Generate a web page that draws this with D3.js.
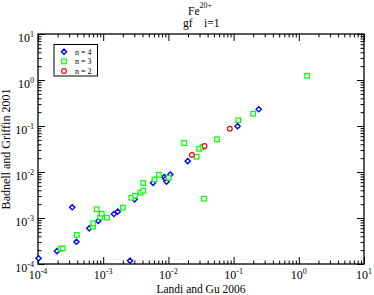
<!DOCTYPE html>
<html><head><meta charset="utf-8">
<script src="https://cdn.jsdelivr.net/npm/d3@7"></script>
<style>body{margin:0;background:#fff}svg{display:block}text{font-family:"Liberation Serif","Times New Roman",serif}</style>
</head><body>
<svg id="c" width="374" height="295"></svg>
<script>
const majorTicks = [1e-4, 1e-3, 1e-2, 1e-1, 1e0, 1e1];
const tickExponents = ["-4", "-3", "-2", "-1", "0", "1"];
const legendLabels = ["n = 4", "n = 3", "n = 2"];

const n4x = [1.02e-4, 1.95e-4, 3.35e-4, 3.89e-4, 6.12e-4, 8.38e-4, 1.46e-3, 1.67e-3, 2.58e-3, 3.02e-3, 5.81e-3, 8.65e-3, 9.0e-3, 9.35e-3, 1.07e-2, 1.98e-2, 0.115, 0.243];
const n4y = [1.33e-4, 1.90e-4, 1.71e-3, 3.05e-4, 5.97e-4, 8.6e-4, 1.22e-3, 1.37e-3, 1.18e-4, 2.55e-3, 5.82e-3, 7.78e-3, 7.05e-3, 6.15e-3, 8.83e-3, 1.72e-2, 0.099, 0.231];

const n3x = [2.21e-4, 2.40e-4, 3.94e-4, 6.98e-4, 7.05e-4, 7.94e-4, 9.03e-4, 9.49e-4, 1.14e-3, 2.00e-3, 2.70e-3, 3.08e-3, 3.73e-3, 4.12e-3, 4.10e-3, 6.12e-3, 7.18e-3, 1.01e-2, 1.75e-2, 2.72e-2, 2.97e-2, 3.34e-2, 3.52e-2, 5.56e-2, 0.118, 0.200, 1.34];
const n3y = [2.15e-4, 2.19e-4, 4.27e-4, 6.47e-4, 7.67e-4, 1.55e-3, 1.04e-3, 1.24e-3, 1.02e-3, 1.68e-3, 2.76e-3, 3.06e-3, 3.55e-3, 3.92e-3, 5.77e-3, 6.87e-3, 8.69e-3, 7.48e-3, 4.27e-2, 2.15e-2, 3.19e-2, 3.49e-2, 2.63e-3, 5.14e-2, 0.133, 0.185, 1.24];

const n2x = [2.29e-2, 3.58e-2, 8.75e-2];
const n2y = [2.34e-2, 3.67e-2, 8.69e-2];

const svg = d3.select("#c");
const L = 38, R = 364, T = 34, B = 264;
const x = d3.scaleLog().domain([1e-4, 10]).range([L, R]);
const y = d3.scaleLog().domain([1e-4, 10]).range([B, T]);

const minor = [];
majorTicks.slice(0, -1).forEach(d => { for (let k = 2; k <= 9; k++) minor.push(d * k); });

function styleAxis(g) {
  g.select(".domain").remove();
  g.selectAll("line").attr("stroke", "#000").attr("stroke-width", 1);
}
svg.append("g").attr("transform", `translate(0,${B})`).call(d3.axisBottom(x).tickValues(majorTicks).tickSize(-7).tickFormat("")).call(styleAxis);
svg.append("g").attr("transform", `translate(0,${B})`).call(d3.axisBottom(x).tickValues(minor).tickSize(-3.5).tickFormat("")).call(styleAxis);
svg.append("g").attr("transform", `translate(0,${T})`).call(d3.axisTop(x).tickValues(majorTicks).tickSize(-7).tickFormat("")).call(styleAxis);
svg.append("g").attr("transform", `translate(0,${T})`).call(d3.axisTop(x).tickValues(minor).tickSize(-3.5).tickFormat("")).call(styleAxis);
svg.append("g").attr("transform", `translate(${L},0)`).call(d3.axisLeft(y).tickValues(majorTicks).tickSize(-7).tickFormat("")).call(styleAxis);
svg.append("g").attr("transform", `translate(${L},0)`).call(d3.axisLeft(y).tickValues(minor).tickSize(-3.5).tickFormat("")).call(styleAxis);
svg.append("g").attr("transform", `translate(${R},0)`).call(d3.axisRight(y).tickValues(majorTicks).tickSize(-7).tickFormat("")).call(styleAxis);
svg.append("g").attr("transform", `translate(${R},0)`).call(d3.axisRight(y).tickValues(minor).tickSize(-3.5).tickFormat("")).call(styleAxis);

svg.append("rect").attr("x", L).attr("y", T).attr("width", R - L).attr("height", B - T)
  .attr("fill", "none").attr("stroke", "#000").attr("stroke-width", 1.3);

majorTicks.forEach((d, i) => {
  const t = svg.append("text").attr("x", x(d)).attr("y", B + 14.5).attr("text-anchor", "middle")
    .attr("font-size", 12).attr("fill", "#000");
  t.append("tspan").text("10");
  t.append("tspan").attr("font-size", 8).attr("dy", -5).text(tickExponents[i]);
});
majorTicks.forEach((d, i) => {
  const t = svg.append("text").attr("x", 34).attr("y", y(d) + 8).attr("text-anchor", "end")
    .attr("font-size", 12).attr("fill", "#000");
  t.append("tspan").text("10");
  t.append("tspan").attr("font-size", 8).attr("dy", -5).text(tickExponents[i]);
});

svg.append("text").attr("x", (L + R) / 2).attr("y", 292.5).attr("text-anchor", "middle")
  .attr("font-size", 11.5).text("Landi and Gu 2006");
svg.append("text").attr("transform", `translate(10,${(T + B) / 2}) rotate(-90)`).attr("text-anchor", "middle")
  .attr("font-size", 12).text("Badnell and Griffin 2001");

const t1 = svg.append("text").attr("x", 188).attr("y", 14.5).attr("font-size", 11.5);
t1.append("tspan").text("Fe");
t1.append("tspan").attr("font-size", 8).attr("dy", -7).text("20+");
const t2 = svg.append("text").attr("x", 183).attr("y", 27).attr("font-size", 11.5);
t2.append("tspan").text("gf");
t2.append("tspan").attr("x", 204).text("i=1");

function diamond(g, cx, cy, col) {
  g.append("path").attr("d", `M${cx},${cy - 2.6}L${cx + 2.6},${cy}L${cx},${cy + 2.6}L${cx - 2.6},${cy}Z`)
    .attr("fill", "#fff").attr("stroke", col).attr("stroke-width", 1.4);
}
function square(g, cx, cy, col) {
  g.append("rect").attr("x", cx - 2.3).attr("y", cy - 2.3).attr("width", 4.6).attr("height", 4.6)
    .attr("fill", "#fff").attr("stroke", col).attr("stroke-width", 1.2);
}
function circle(g, cx, cy, col) {
  g.append("circle").attr("cx", cx).attr("cy", cy).attr("r", 2.4)
    .attr("fill", "#fff").attr("stroke", col).attr("stroke-width", 1.2);
}
const pts = svg.append("g");
n4x.forEach((v, i) => diamond(pts, x(v), y(n4y[i]), "#0000ff"));
n3x.forEach((v, i) => square(pts, x(v), y(n3y[i]), "#00ff00"));
n2x.forEach((v, i) => circle(pts, x(v), y(n2y[i]), "#ff0000"));

const lg = svg.append("g");
lg.append("rect").attr("x", 54).attr("y", 44.5).attr("width", 43.5).attr("height", 31.5)
  .attr("fill", "#fff").attr("stroke", "#000").attr("stroke-width", 1);
const legFns = [diamond, square, circle];
const legCols = ["#0000ff", "#00ff00", "#ff0000"];
legendLabels.forEach((s, i) => {
  const cy = 51.7 + i * 9.7;
  legFns[i](lg, 64, cy, legCols[i]);
  lg.append("text").attr("x", 75).attr("y", cy + 3).attr("font-size", 8).text(s);
});
</script>
</body></html>
